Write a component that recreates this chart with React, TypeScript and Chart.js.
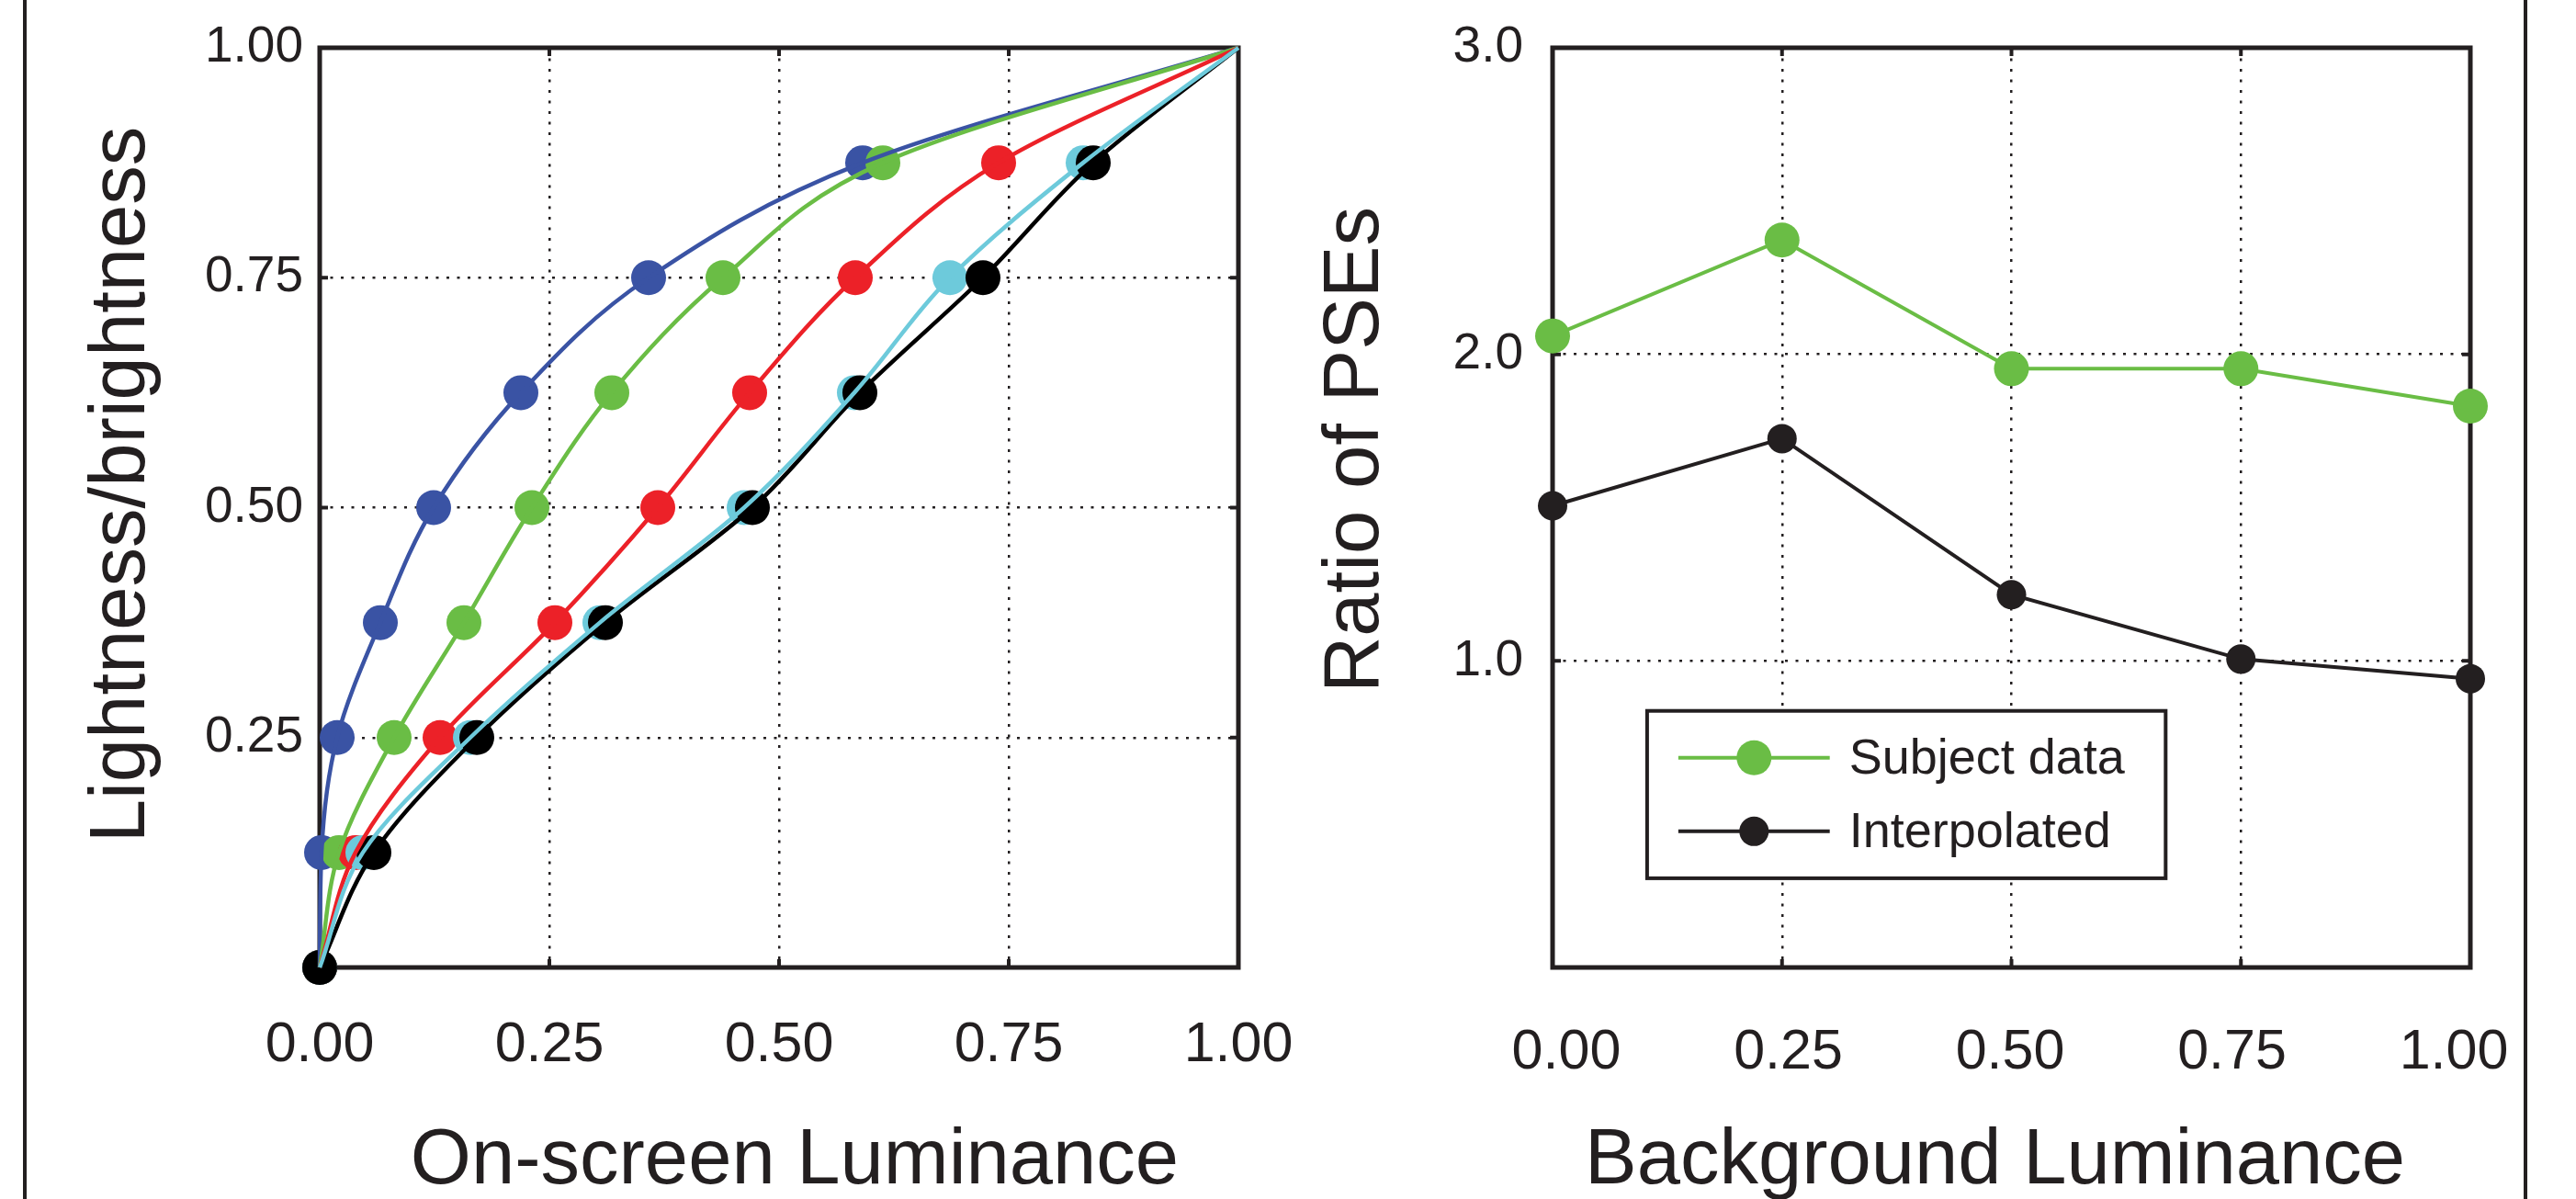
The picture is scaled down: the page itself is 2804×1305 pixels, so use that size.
import React, { useEffect, useRef } from 'react';
import { Chart, registerables } from 'chart.js';

Chart.register(...registerables);

// ---------------- data ----------------
// Left panel: lightness levels (y) and the on-screen luminance (x) for each curve
const LEVELS = [0, 0.125, 0.25, 0.375, 0.5, 0.625, 0.75, 0.875, 1.0];
const BLUE_X = [0, 0.002, 0.019, 0.066, 0.124, 0.219, 0.358, 0.591, 1.0];
const GREEN_X = [0, 0.021, 0.081, 0.157, 0.231, 0.318, 0.439, 0.613, 1.0];
const RED_X = [0, 0.039, 0.131, 0.256, 0.368, 0.468, 0.583, 0.739, 1.0];
const CYAN_X = [0, 0.047, 0.164, 0.305, 0.462, 0.582, 0.686, 0.831, 1.0];
const BLACK_X = [0, 0.059, 0.171, 0.311, 0.471, 0.588, 0.722, 0.842, 1.0];

const LUM_TICKS = [0, 0.25, 0.5, 0.75, 1.0];
const LUM_TICK_LABELS = ['0.00', '0.25', '0.50', '0.75', '1.00'];
const LIGHT_TICKS = [0.25, 0.5, 0.75, 1.0];
const LIGHT_TICK_LABELS = ['0.25', '0.50', '0.75', '1.00'];

// Right panel
const BG_LUM = [0, 0.25, 0.5, 0.75, 1.0];
const SUBJECT_DATA = [2.06, 2.373, 1.953, 1.953, 1.831];
const INTERPOLATED = [1.506, 1.725, 1.216, 1.006, 0.942];
const RATIO_TICKS = [1, 2, 3];
const RATIO_TICK_LABELS = ['1.0', '2.0', '3.0'];

const LEFT_X_TITLE = 'On-screen Luminance';
const LEFT_Y_TITLE = 'Lightness/brightness';
const RIGHT_X_TITLE = 'Background Luminance';
const RIGHT_Y_TITLE = 'Ratio of PSEs';
const SUBJECT_LABEL = 'Subject data';
const INTERP_LABEL = 'Interpolated';

// ---------------- styles ----------------
const INK = '#231f20';
const FONT = "'Liberation Sans', Arial, Helvetica, sans-serif";
const CURVES = [
  { key: 'blue', xs: BLUE_X, color: '#3a53a4' },
  { key: 'green', xs: GREEN_X, color: '#6abd45' },
  { key: 'red', xs: RED_X, color: '#ec2128' },
  { key: 'cyan', xs: CYAN_X, color: '#6dcadb' },
  { key: 'black', xs: BLACK_X, color: '#000000' },
];
const LINE_ORDER: Record<string, number> = { cyan: 0, black: 1, red: 2, green: 3, blue: 4 };
const MARKER_ORDER: Record<string, number> = { black: 5, cyan: 6, red: 7, green: 8, blue: 9 };
const GRID_DASH = [3, 8.5];

// ---------------- plugins ----------------
const framePlugin = {
  id: 'frame',
  beforeDatasetsDraw(chart: any, _a: any, opts: any) {
    const { ctx, chartArea: a, scales } = chart;
    const len = opts.tickLength ?? 9;
    ctx.save();
    ctx.strokeStyle = INK;
    ctx.lineWidth = 4;
    ctx.beginPath();
    for (const t of scales.x.ticks) {
      const px = scales.x.getPixelForValue(t.value);
      ctx.moveTo(px, a.bottom);
      ctx.lineTo(px, a.bottom - len);
      ctx.moveTo(px, a.top);
      ctx.lineTo(px, a.top + len);
    }
    for (const t of scales.y.ticks) {
      const py = scales.y.getPixelForValue(t.value);
      ctx.moveTo(a.left, py);
      ctx.lineTo(a.left + len, py);
      ctx.moveTo(a.right, py);
      ctx.lineTo(a.right - len, py);
    }
    ctx.stroke();
    ctx.lineWidth = 5;
    ctx.strokeRect(a.left, a.top, a.right - a.left, a.bottom - a.top);
    ctx.restore();
  },
};

const axisTitlePlugin = {
  id: 'axisTitles',
  afterDraw(chart: any, _a: any, opts: any) {
    const { ctx, chartArea: a } = chart;
    const cx = (a.left + a.right) / 2;
    const cy = (a.top + a.bottom) / 2;
    ctx.save();
    ctx.fillStyle = INK;
    ctx.font = `${opts.size}px ${FONT}`;
    ctx.textAlign = 'center';
    ctx.textBaseline = 'alphabetic';
    ctx.fillText(opts.xText, cx + opts.xShift, a.bottom + opts.xBaseline);
    ctx.translate(a.left + opts.yBaseline, cy + opts.yShift);
    ctx.rotate(-Math.PI / 2);
    ctx.fillText(opts.yText, 0, 0);
    ctx.restore();
  },
};

const boxLegendPlugin = {
  id: 'boxLegend',
  afterDatasetsDraw(chart: any, _a: any, opts: any) {
    if (!opts || !opts.display) return;
    const { ctx, chartArea: a } = chart;
    const W = a.right - a.left;
    const H = a.bottom - a.top;
    const X = (f: number) => a.left + f * W;
    const Y = (f: number) => a.top + f * H;
    ctx.save();
    ctx.fillStyle = '#ffffff';
    ctx.fillRect(X(opts.left), Y(opts.top), X(opts.right) - X(opts.left), Y(opts.bottom) - Y(opts.top));
    ctx.strokeStyle = INK;
    ctx.lineWidth = 4;
    ctx.strokeRect(X(opts.left), Y(opts.top), X(opts.right) - X(opts.left), Y(opts.bottom) - Y(opts.top));
    chart.data.datasets.forEach((ds: any, i: number) => {
      const y = Y(opts.rows[i]);
      ctx.strokeStyle = ds.borderColor;
      ctx.lineWidth = ds.borderWidth;
      ctx.beginPath();
      ctx.moveTo(X(opts.lineFrom), y);
      ctx.lineTo(X(opts.lineTo), y);
      ctx.stroke();
      ctx.fillStyle = ds.pointBackgroundColor;
      ctx.beginPath();
      ctx.arc((X(opts.lineFrom) + X(opts.lineTo)) / 2, y, ds.pointRadius, 0, Math.PI * 2);
      ctx.fill();
      ctx.fillStyle = INK;
      ctx.font = `${opts.fontSize}px ${FONT}`;
      ctx.textAlign = 'left';
      ctx.textBaseline = 'middle';
      ctx.fillText(ds.label, X(opts.textAt), y + 2);
    });
    ctx.restore();
  },
};

// ---------------- configs ----------------
function tickFont(size: number, lineHeight = 1.2) {
  return { family: FONT, size, lineHeight };
}

const gridStyle = { color: INK, lineWidth: 2.5, drawTicks: false };

function leftConfig(): any {
  const lines = CURVES.map((c) => ({
    label: c.key + ' curve',
    data: LEVELS.map((y, k) => ({ x: c.xs[k], y })),
    borderColor: c.color,
    borderWidth: 4.5,
    pointRadius: 0,
    cubicInterpolationMode: 'monotone',
    fill: false,
    clip: false,
    order: LINE_ORDER[c.key],
  }));
  const markers = CURVES.map((c) => ({
    label: c.key + ' points',
    data: LEVELS.map((y, k) => ({ x: c.xs[k], y })),
    showLine: false,
    pointRadius: LEVELS.map((y) => (y < 1 ? 19 : 0)),
    pointBackgroundColor: c.color,
    pointBorderColor: c.color,
    pointBorderWidth: 0,
    clip: false,
    order: MARKER_ORDER[c.key],
  }));
  return {
    type: 'line',
    data: { datasets: [...lines, ...markers] },
    plugins: [framePlugin, axisTitlePlugin],
    options: {
      responsive: false,
      animation: false,
      devicePixelRatio: 1,
      events: [],
      indexAxis: 'y',
      layout: { autoPadding: false, padding: { left: 0, top: 52, right: 112, bottom: 0 } },
      plugins: {
        legend: { display: false },
        tooltip: { enabled: false },
        frame: { tickLength: 9 },
        axisTitles: {
          size: 85,
          xText: LEFT_X_TITLE,
          xShift: 17,
          xBaseline: 235,
          yText: LEFT_Y_TITLE,
          yBaseline: -191,
          yShift: -25,
        },
      },
      scales: {
        x: {
          type: 'linear',
          position: 'bottom',
          min: 0,
          max: 1,
          afterBuildTicks: (s: any) => {
            s.ticks = LUM_TICKS.map((value) => ({ value }));
          },
          afterFit: (s: any) => {
            s.height = 252;
          },
          ticks: {
            callback: (_v: any, i: number) => LUM_TICK_LABELS[i],
            font: tickFont(61),
            color: INK,
            padding: 49,
            maxRotation: 0,
            minRotation: 0,
            autoSkip: false,
          },
          grid: gridStyle,
          border: { display: false, dash: GRID_DASH },
        },
        y: {
          type: 'linear',
          position: 'left',
          min: 0,
          max: 1,
          afterBuildTicks: (s: any) => {
            s.ticks = LIGHT_TICKS.map((value) => ({ value }));
          },
          afterFit: (s: any) => {
            s.width = 348;
          },
          ticks: {
            callback: (_v: any, i: number) => LIGHT_TICK_LABELS[i],
            font: tickFont(55, 0.6),
            color: INK,
            padding: 18,
            autoSkip: false,
          },
          grid: gridStyle,
          border: { display: false, dash: GRID_DASH },
        },
      },
    },
  };
}

function rightConfig(): any {
  return {
    type: 'line',
    data: {
      datasets: [
        {
          label: SUBJECT_LABEL,
          data: BG_LUM.map((x, k) => ({ x, y: SUBJECT_DATA[k] })),
          xAxisID: 'x',
          yAxisID: 'y',
          borderColor: '#6abd45',
          borderWidth: 4,
          pointRadius: 19,
          pointBackgroundColor: '#6abd45',
          pointBorderColor: '#6abd45',
          pointBorderWidth: 0,
          tension: 0,
          clip: false,
        },
        {
          label: INTERP_LABEL,
          data: BG_LUM.map((x, k) => ({ x, y: INTERPOLATED[k] })),
          xAxisID: 'x',
          yAxisID: 'y',
          borderColor: INK,
          borderWidth: 4,
          pointRadius: 16,
          pointBackgroundColor: INK,
          pointBorderColor: INK,
          pointBorderWidth: 0,
          tension: 0,
          clip: false,
        },
      ],
    },
    plugins: [framePlugin, axisTitlePlugin, boxLegendPlugin],
    options: {
      responsive: false,
      animation: false,
      devicePixelRatio: 1,
      events: [],
      layout: { autoPadding: false, padding: { left: 0, top: 52, right: 115, bottom: 0 } },
      plugins: {
        legend: { display: false },
        tooltip: { enabled: false },
        frame: { tickLength: 9 },
        axisTitles: {
          size: 85,
          xText: RIGHT_X_TITLE,
          xShift: -18,
          xBaseline: 235,
          yText: RIGHT_Y_TITLE,
          yBaseline: -190,
          yShift: -63,
        },
        boxLegend: {
          display: true,
          left: 0.103,
          right: 0.668,
          top: 0.721,
          bottom: 0.903,
          rows: [0.772, 0.852],
          lineFrom: 0.137,
          lineTo: 0.302,
          textAt: 0.323,
          fontSize: 54,
        },
      },
      scales: {
        // axis carrying data, grid lines and ticks
        x: {
          type: 'linear',
          position: 'bottom',
          min: 0,
          max: 1,
          afterBuildTicks: (s: any) => {
            s.ticks = LUM_TICKS.map((value) => ({ value }));
          },
          afterFit: (s: any) => {
            s.height = 0;
          },
          ticks: { display: false },
          grid: gridStyle,
          border: { display: false, dash: GRID_DASH },
        },
        // label axis: the printed labels sit on a slightly narrower span than the ticks
        xLabels: {
          type: 'linear',
          axis: 'x',
          position: 'bottom',
          min: -0.0155,
          max: 1.0186,
          afterBuildTicks: (s: any) => {
            s.ticks = LUM_TICKS.map((value) => ({ value }));
          },
          afterFit: (s: any) => {
            s.height = 252;
          },
          ticks: {
            callback: (_v: any, i: number) => LUM_TICK_LABELS[i],
            font: tickFont(61),
            color: INK,
            padding: 49,
            maxRotation: 0,
            minRotation: 0,
            autoSkip: false,
          },
          grid: { display: false },
          border: { display: false },
        },
        y: {
          type: 'linear',
          position: 'left',
          min: 0,
          max: 3,
          afterBuildTicks: (s: any) => {
            s.ticks = RATIO_TICKS.map((value) => ({ value }));
          },
          afterFit: (s: any) => {
            s.width = 288;
          },
          ticks: {
            callback: (_v: any, i: number) => RATIO_TICK_LABELS[i],
            font: tickFont(55, 0.6),
            color: INK,
            padding: 32,
            autoSkip: false,
          },
          grid: gridStyle,
          border: { display: false, dash: GRID_DASH },
        },
      },
    },
  };
}

function ChartCanvas(props: { make: () => any; left: number; width: number; height: number }) {
  const ref = useRef<HTMLCanvasElement | null>(null);
  useEffect(() => {
    const chart = new Chart(ref.current as HTMLCanvasElement, props.make());
    return () => chart.destroy();
  }, []);
  return (
    <canvas
      ref={ref}
      width={props.width}
      height={props.height}
      style={{ position: 'absolute', left: props.left, top: 0, width: props.width, height: props.height }}
    />
  );
}

export default function App() {
  return (
    <div
      style={{
        position: 'fixed',
        left: 0,
        top: 0,
        width: 2804,
        height: 1305,
        background: '#ffffff',
        overflow: 'hidden',
      }}
    >
      <ChartCanvas make={leftConfig} left={0} width={1460} height={1305} />
      <ChartCanvas make={rightConfig} left={1402} width={1402} height={1305} />
      <div style={{ position: 'absolute', left: 25, top: 0, width: 4, height: 1305, background: INK }} />
      <div style={{ position: 'absolute', left: 2747, top: 0, width: 4, height: 1305, background: INK }} />
    </div>
  );
}
